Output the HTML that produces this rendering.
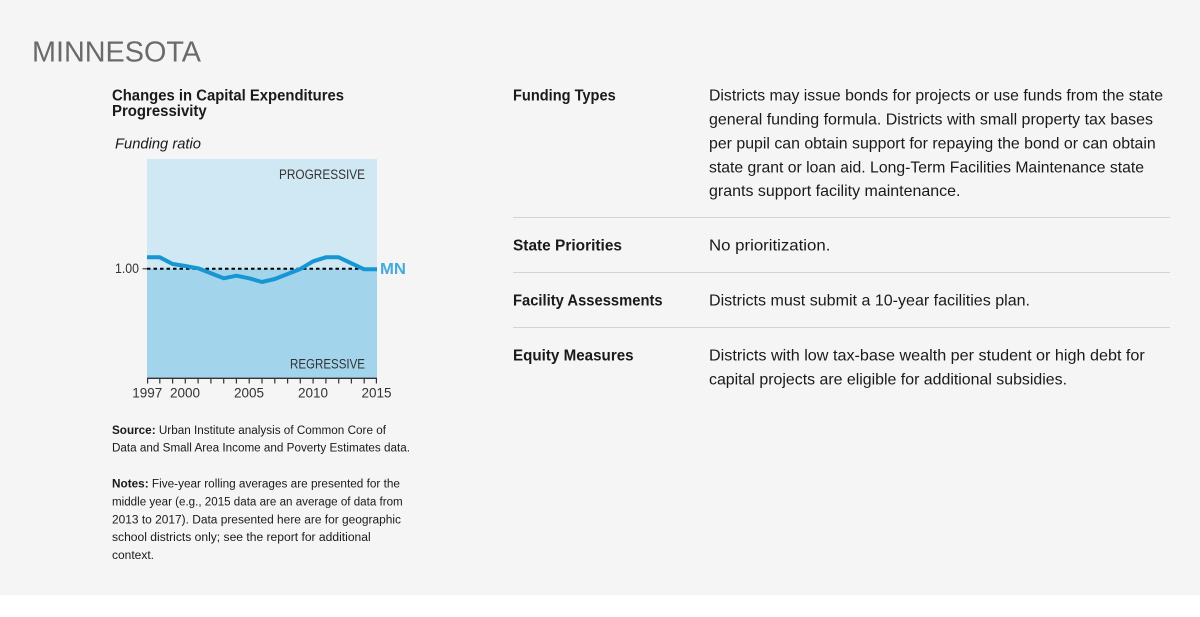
<!DOCTYPE html>
<html>
<head>
<meta charset="utf-8">
<style>
html,body{margin:0;padding:0;background:#ffffff;}
svg{display:block;}
text{font-family:"Liberation Sans",Arial,sans-serif;}
</style>
</head>
<body>
<svg width="1200" height="617" viewBox="0 0 1200 617" xmlns="http://www.w3.org/2000/svg">
  <rect x="0" y="0" width="1200" height="595" fill="#f5f5f5"/>

  <!-- Title -->
  <text x="32" y="61.7" font-size="29" fill="#6a6a6a" textLength="169" lengthAdjust="spacingAndGlyphs">MINNESOTA</text>

  <!-- Chart title -->
  <text x="112" y="100.7" font-size="16" font-weight="bold" fill="#1a1a1a" textLength="232" lengthAdjust="spacingAndGlyphs">Changes in Capital Expenditures</text>
  <text x="112" y="116" font-size="16" font-weight="bold" fill="#1a1a1a" textLength="94.7" lengthAdjust="spacingAndGlyphs">Progressivity</text>
  <text x="115" y="148.3" font-size="15" font-style="italic" fill="#1a1a1a" textLength="86" lengthAdjust="spacingAndGlyphs">Funding ratio</text>

  <!-- Chart background -->
  <rect x="147" y="159" width="230" height="109.7" fill="#cfe8f3"/>
  <rect x="147" y="268.7" width="230" height="109.6" fill="#a2d4ec"/>

  <text x="365" y="179" font-size="13.5" fill="#333" text-anchor="end" textLength="86" lengthAdjust="spacingAndGlyphs">PROGRESSIVE</text>
  <text x="365" y="368.3" font-size="13.5" fill="#333" text-anchor="end" textLength="75" lengthAdjust="spacingAndGlyphs">REGRESSIVE</text>

  <!-- 1.00 reference -->
  <line x1="142.5" y1="268.7" x2="147" y2="268.7" stroke="#666" stroke-width="1.5"/>
  <text x="139" y="273" font-size="13.5" fill="#333" text-anchor="end" textLength="24" lengthAdjust="spacingAndGlyphs">1.00</text>
  <line x1="147" y1="268.7" x2="377" y2="268.7" stroke="#000" stroke-width="2" stroke-dasharray="3.5,3"/>

  <!-- Series -->
  <polyline fill="none" stroke="#1696d2" stroke-width="4" stroke-linejoin="round"
    points="147,257.3 159.8,257.3 172.6,264 185.3,266 198.1,268.3 210.9,273.3 223.7,278.3 236.4,275.7 249.2,278.3 262,282 274.8,279 287.6,274 300.3,269 313.1,261.3 325.9,257.3 338.7,257.3 351.4,263.3 364.2,269.3 377,269.3"/>
  <text x="380" y="274" font-size="16" font-weight="bold" fill="#46abdb" textLength="26" lengthAdjust="spacingAndGlyphs">MN</text>

  <!-- X axis -->
  <line x1="147" y1="378.3" x2="377" y2="378.3" stroke="#333" stroke-width="1.3"/>
  <g stroke="#333" stroke-width="1.2">
    <line x1="147.6" y1="378" x2="147.6" y2="383.5"/>
    <line x1="159.8" y1="378" x2="159.8" y2="383.5"/>
    <line x1="172.6" y1="378" x2="172.6" y2="383.5"/>
    <line x1="185.3" y1="378" x2="185.3" y2="383.5"/>
    <line x1="198.1" y1="378" x2="198.1" y2="383.5"/>
    <line x1="210.9" y1="378" x2="210.9" y2="383.5"/>
    <line x1="223.7" y1="378" x2="223.7" y2="383.5"/>
    <line x1="236.4" y1="378" x2="236.4" y2="383.5"/>
    <line x1="249.2" y1="378" x2="249.2" y2="383.5"/>
    <line x1="262" y1="378" x2="262" y2="383.5"/>
    <line x1="274.8" y1="378" x2="274.8" y2="383.5"/>
    <line x1="287.6" y1="378" x2="287.6" y2="383.5"/>
    <line x1="300.3" y1="378" x2="300.3" y2="383.5"/>
    <line x1="313.1" y1="378" x2="313.1" y2="383.5"/>
    <line x1="325.9" y1="378" x2="325.9" y2="383.5"/>
    <line x1="338.7" y1="378" x2="338.7" y2="383.5"/>
    <line x1="351.4" y1="378" x2="351.4" y2="383.5"/>
    <line x1="364.2" y1="378" x2="364.2" y2="383.5"/>
    <line x1="376.4" y1="378" x2="376.4" y2="383.5"/>
  </g>
  <g font-size="13.5" fill="#333" text-anchor="middle">
    <text x="147.3" y="397.7">1997</text>
    <text x="185" y="397.7">2000</text>
    <text x="249" y="397.7">2005</text>
    <text x="313" y="397.7">2010</text>
    <text x="376.5" y="397.7">2015</text>
  </g>

  <!-- Source / notes -->
  <g font-size="11.5" fill="#1a1a1a">
    <text x="112" y="434" textLength="274" lengthAdjust="spacingAndGlyphs"><tspan font-weight="bold">Source:</tspan> Urban Institute analysis of Common Core of</text>
    <text x="112" y="451.7" textLength="298" lengthAdjust="spacingAndGlyphs">Data and Small Area Income and Poverty Estimates data.</text>
    <text x="112" y="487.3" textLength="288" lengthAdjust="spacingAndGlyphs"><tspan font-weight="bold">Notes:</tspan> Five-year rolling averages are presented for the</text>
    <text x="112" y="505.3" textLength="290.7" lengthAdjust="spacingAndGlyphs">middle year (e.g., 2015 data are an average of data from</text>
    <text x="112" y="523.3" textLength="289" lengthAdjust="spacingAndGlyphs">2013 to 2017). Data presented here are for geographic</text>
    <text x="112" y="541" textLength="258.7" lengthAdjust="spacingAndGlyphs">school districts only; see the report for additional</text>
    <text x="112" y="559" textLength="42" lengthAdjust="spacingAndGlyphs">context.</text>
  </g>

  <!-- Right table -->
  <g font-size="16" fill="#1a1a1a">
    <text x="513" y="100.5" font-weight="bold" textLength="102.7" lengthAdjust="spacingAndGlyphs">Funding Types</text>
    <text x="709" y="100.7" textLength="454" lengthAdjust="spacingAndGlyphs">Districts may issue bonds for projects or use funds from the state</text>
    <text x="709" y="124.5" textLength="444" lengthAdjust="spacingAndGlyphs">general funding formula. Districts with small property tax bases</text>
    <text x="709" y="148.4" textLength="446.7" lengthAdjust="spacingAndGlyphs">per pupil can obtain support for repaying the bond or can obtain</text>
    <text x="709" y="172.3" textLength="435" lengthAdjust="spacingAndGlyphs">state grant or loan aid. Long-Term Facilities Maintenance state</text>
    <text x="709" y="196.2" textLength="251.5" lengthAdjust="spacingAndGlyphs">grants support facility maintenance.</text>

    <text x="513" y="250.5" font-weight="bold" textLength="109" lengthAdjust="spacingAndGlyphs">State Priorities</text>
    <text x="709" y="250.5" textLength="121.4" lengthAdjust="spacingAndGlyphs">No prioritization.</text>

    <text x="513" y="305.5" font-weight="bold" textLength="149.6" lengthAdjust="spacingAndGlyphs">Facility Assessments</text>
    <text x="709" y="305.5" textLength="321" lengthAdjust="spacingAndGlyphs">Districts must submit a 10-year facilities plan.</text>

    <text x="513" y="360.5" font-weight="bold" textLength="120.6" lengthAdjust="spacingAndGlyphs">Equity Measures</text>
    <text x="709" y="360.5" textLength="435.8" lengthAdjust="spacingAndGlyphs">Districts with low tax-base wealth per student or high debt for</text>
    <text x="709" y="384.4" textLength="358" lengthAdjust="spacingAndGlyphs">capital projects are eligible for additional subsidies.</text>
  </g>
  <g stroke="#d4d4d4" stroke-width="1">
    <line x1="513" y1="217.5" x2="1170" y2="217.5"/>
    <line x1="513" y1="272.5" x2="1170" y2="272.5"/>
    <line x1="513" y1="327.5" x2="1170" y2="327.5"/>
  </g>
</svg>
</body>
</html>
